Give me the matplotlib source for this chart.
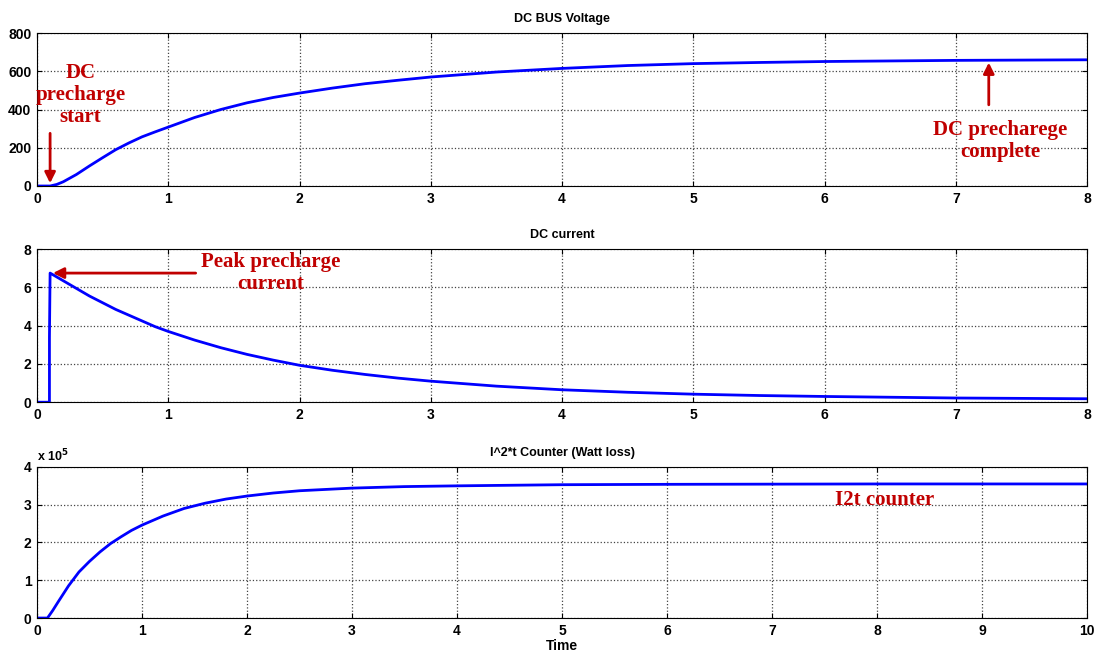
import matplotlib.pyplot as plt

# values
t_v = [0, 0.1, 0.15, 0.2, 0.3, 0.4, 0.5, 0.6, 0.7, 0.8, 0.9, 1.0, 1.2, 1.4, 1.6, 1.8, 2.0,
       2.25, 2.5, 2.75, 3.0, 3.5, 4.0, 4.5, 5.0, 5.5, 6.0, 7.0, 8.0]
volt = [0, 0, 8, 22, 60, 105, 148, 190, 225, 257, 283, 308, 358, 400, 435, 463, 486,
        512, 535, 553, 570, 596, 615, 630, 640, 646, 651, 657, 660]

t_i = [0, 0.095, 0.095, 0.1, 0.2, 0.3, 0.4, 0.5, 0.6, 0.7, 0.8, 0.9, 1.0, 1.2, 1.4, 1.6, 1.8,
       2.0, 2.25, 2.5, 2.75, 3.0, 3.5, 4.0, 4.5, 5.0, 5.5, 6.0, 7.0, 8.0]
curr = [0, 0, 3.4, 6.75, 6.35, 5.95, 5.55, 5.2, 4.85, 4.55, 4.25, 3.95, 3.7, 3.25, 2.85, 2.5, 2.2,
        1.93, 1.67, 1.45, 1.26, 1.1, 0.84, 0.65, 0.52, 0.42, 0.35, 0.3, 0.22, 0.18]

t_e = [0, 0.1, 0.15, 0.2, 0.3, 0.4, 0.5, 0.6, 0.7, 0.8, 0.9, 1.0, 1.2, 1.4, 1.6, 1.8, 2.0,
       2.25, 2.5, 3.0, 3.5, 4.0, 5.0, 6.0, 8.0, 10.0]
i2t = [0, 0, 0.2, 0.42, 0.85, 1.22, 1.5, 1.75, 1.97, 2.15, 2.32, 2.46, 2.7, 2.9, 3.04, 3.15, 3.23,
       3.31, 3.37, 3.44, 3.48, 3.5, 3.53, 3.54, 3.55, 3.55]  # x 10^5

red = '#c00000'
tfont = dict(family='Liberation Serif', weight='bold', size=15, color=red)
arrow = dict(arrowstyle='-|>', color=red, lw=2, mutation_scale=16)

plt.rcParams['font.family'] = 'Liberation Sans'
plt.rcParams['font.weight'] = 'bold'

fig = plt.figure(figsize=(10.97, 6.54), dpi=100)
ax1 = fig.add_axes([0.0337, 0.7156, 0.9574, 0.2339])
ax2 = fig.add_axes([0.0337, 0.385, 0.9574, 0.234])
ax3 = fig.add_axes([0.0337, 0.055, 0.9574, 0.231])

for ax in (ax1, ax2, ax3):
    ax.grid(True, linestyle=':', color='#444444', linewidth=0.9)
    ax.tick_params(direction='in', top=True, right=True, labelsize=10, pad=4)

ax1.plot(t_v, volt, color='blue', linewidth=2)
ax1.set_xlim(0, 8)
ax1.set_ylim(0, 800)
ax1.set_yticks([0, 200, 400, 600, 800])
ax1.set_title('DC BUS Voltage', fontsize=9, fontweight='bold', pad=8)
ax1.text(0.33, 476, 'DC\nprecharge\nstart', ha='center', va='center', linespacing=1.15, **tfont)
ax1.annotate('', xy=(0.1, 0), xytext=(0.1, 290), arrowprops=arrow)
ax1.text(7.34, 345, 'DC precharege\ncomplete', ha='center', va='top', linespacing=1.15, **tfont)
ax1.annotate('', xy=(7.25, 660), xytext=(7.25, 410), arrowprops=arrow)

ax2.plot(t_i, curr, color='blue', linewidth=2)
ax2.set_xlim(0, 8)
ax2.set_ylim(0, 8)
ax2.set_yticks([0, 2, 4, 6, 8])
ax2.set_title('DC current', fontsize=9, fontweight='bold', pad=8)
ax2.text(1.78, 6.75, 'Peak precharge\ncurrent', ha='center', va='center', linespacing=1.15, **tfont)
ax2.annotate('', xy=(0.1, 6.75), xytext=(1.23, 6.75), arrowprops=arrow)

ax3.plot(t_e, i2t, color='blue', linewidth=2)
ax3.set_xlim(0, 10)
ax3.set_ylim(0, 4)
ax3.set_yticks([0, 1, 2, 3, 4])
ax3.set_xticks(range(11))
ax3.set_title('I^2*t Counter (Watt loss)', fontsize=9, fontweight='bold', pad=8)
ax3.text(0.0, 1.02, 'x 10$^{5}$', transform=ax3.transAxes, fontsize=9, fontweight='bold', va='bottom')
ax3.text(8.07, 3.12, 'I2t counter', ha='center', va='center', **tfont)
ax3.set_xlabel('Time', fontsize=10, fontweight='bold', labelpad=1)

for ax in (ax1, ax2, ax3):
    for lab in ax.get_xticklabels() + ax.get_yticklabels():
        lab.set_fontweight('bold')

fig.savefig('out.png', dpi=100)
